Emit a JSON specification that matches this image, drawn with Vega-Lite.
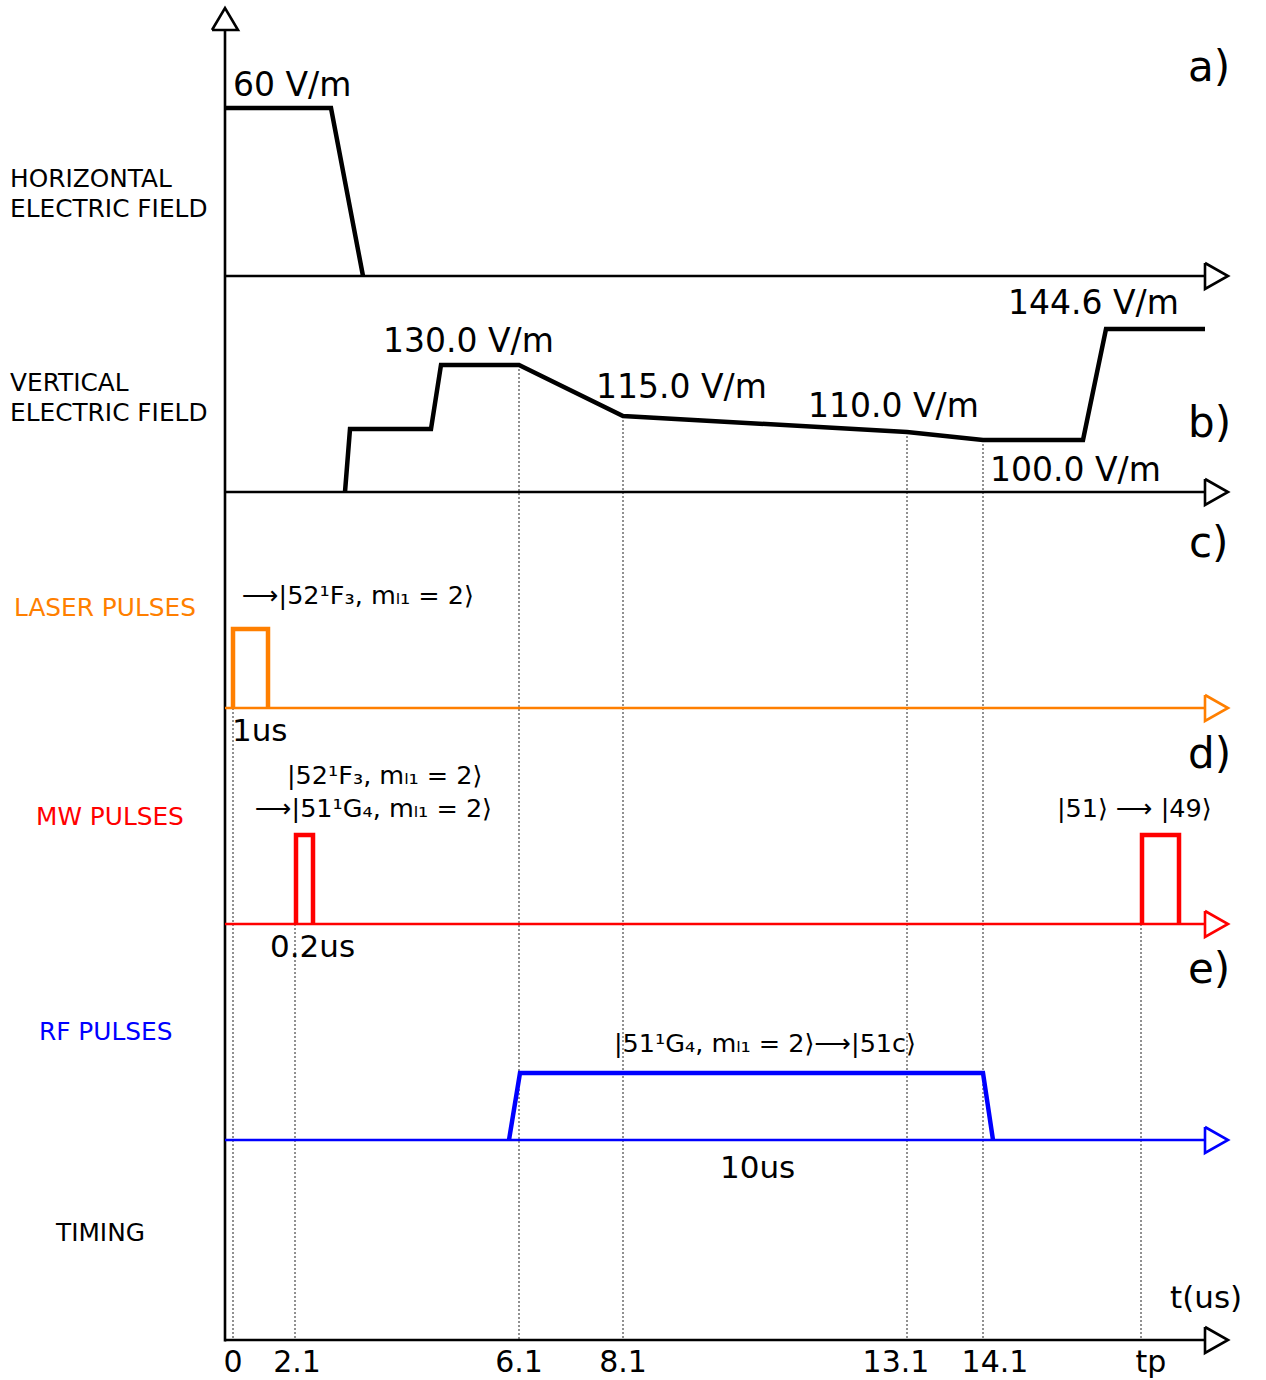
{
  "$schema": "https://vega.github.io/schema/vega-lite/v6.json",
  "width": 1266,
  "height": 1380,
  "autosize": {"type": "none"},
  "padding": 0,
  "background": "white",
  "config": {"view": {"stroke": null}, "text": {"font": "DejaVu Sans"}},
  "datasets": {
    "paths": [
      {"s": "vaxis", "k": "ax", "c": "k", "o": 1, "x": 225, "y": 1341.5},
      {"s": "vaxis", "k": "ax", "c": "k", "o": 2, "x": 225, "y": 30},
      {"s": "vhead", "k": "ax", "c": "k", "o": 1, "x": 212, "y": 30},
      {"s": "vhead", "k": "ax", "c": "k", "o": 2, "x": 225, "y": 8},
      {"s": "vhead", "k": "ax", "c": "k", "o": 3, "x": 238, "y": 30},
      {"s": "vhead", "k": "ax", "c": "k", "o": 4, "x": 212, "y": 30},
      {"s": "ha", "k": "ax", "c": "k", "o": 1, "x": 225, "y": 276},
      {"s": "ha", "k": "ax", "c": "k", "o": 2, "x": 1205, "y": 276},
      {"s": "hah", "k": "ax", "c": "k", "o": 1, "x": 1205, "y": 263},
      {"s": "hah", "k": "ax", "c": "k", "o": 2, "x": 1228, "y": 276},
      {"s": "hah", "k": "ax", "c": "k", "o": 3, "x": 1205, "y": 289},
      {"s": "hah", "k": "ax", "c": "k", "o": 4, "x": 1205, "y": 263},
      {"s": "hb", "k": "ax", "c": "k", "o": 1, "x": 225, "y": 492},
      {"s": "hb", "k": "ax", "c": "k", "o": 2, "x": 1205, "y": 492},
      {"s": "hbh", "k": "ax", "c": "k", "o": 1, "x": 1205, "y": 479},
      {"s": "hbh", "k": "ax", "c": "k", "o": 2, "x": 1228, "y": 492},
      {"s": "hbh", "k": "ax", "c": "k", "o": 3, "x": 1205, "y": 505},
      {"s": "hbh", "k": "ax", "c": "k", "o": 4, "x": 1205, "y": 479},
      {"s": "hc", "k": "ax", "c": "o", "o": 1, "x": 225, "y": 708},
      {"s": "hc", "k": "ax", "c": "o", "o": 2, "x": 1205, "y": 708},
      {"s": "hch", "k": "ax", "c": "o", "o": 1, "x": 1205, "y": 695},
      {"s": "hch", "k": "ax", "c": "o", "o": 2, "x": 1228, "y": 708},
      {"s": "hch", "k": "ax", "c": "o", "o": 3, "x": 1205, "y": 721},
      {"s": "hch", "k": "ax", "c": "o", "o": 4, "x": 1205, "y": 695},
      {"s": "hd", "k": "ax", "c": "r", "o": 1, "x": 225, "y": 924},
      {"s": "hd", "k": "ax", "c": "r", "o": 2, "x": 1205, "y": 924},
      {"s": "hdh", "k": "ax", "c": "r", "o": 1, "x": 1205, "y": 911},
      {"s": "hdh", "k": "ax", "c": "r", "o": 2, "x": 1228, "y": 924},
      {"s": "hdh", "k": "ax", "c": "r", "o": 3, "x": 1205, "y": 937},
      {"s": "hdh", "k": "ax", "c": "r", "o": 4, "x": 1205, "y": 911},
      {"s": "he", "k": "ax", "c": "b", "o": 1, "x": 225, "y": 1140},
      {"s": "he", "k": "ax", "c": "b", "o": 2, "x": 1205, "y": 1140},
      {"s": "heh", "k": "ax", "c": "b", "o": 1, "x": 1205, "y": 1127},
      {"s": "heh", "k": "ax", "c": "b", "o": 2, "x": 1228, "y": 1140},
      {"s": "heh", "k": "ax", "c": "b", "o": 3, "x": 1205, "y": 1153},
      {"s": "heh", "k": "ax", "c": "b", "o": 4, "x": 1205, "y": 1127},
      {"s": "ht", "k": "ax", "c": "k", "o": 1, "x": 225, "y": 1340},
      {"s": "ht", "k": "ax", "c": "k", "o": 2, "x": 1205, "y": 1340},
      {"s": "hth", "k": "ax", "c": "k", "o": 1, "x": 1205, "y": 1327},
      {"s": "hth", "k": "ax", "c": "k", "o": 2, "x": 1228, "y": 1340},
      {"s": "hth", "k": "ax", "c": "k", "o": 3, "x": 1205, "y": 1353},
      {"s": "hth", "k": "ax", "c": "k", "o": 4, "x": 1205, "y": 1327},

      {"s": "sa", "k": "sig", "c": "k", "o": 1, "x": 225, "y": 108},
      {"s": "sa", "k": "sig", "c": "k", "o": 2, "x": 331, "y": 108},
      {"s": "sa", "k": "sig", "c": "k", "o": 3, "x": 363, "y": 276},
      {"s": "sb", "k": "sig", "c": "k", "o": 1, "x": 345, "y": 492},
      {"s": "sb", "k": "sig", "c": "k", "o": 2, "x": 350, "y": 429},
      {"s": "sb", "k": "sig", "c": "k", "o": 3, "x": 431, "y": 429},
      {"s": "sb", "k": "sig", "c": "k", "o": 4, "x": 441, "y": 365},
      {"s": "sb", "k": "sig", "c": "k", "o": 5, "x": 519, "y": 365},
      {"s": "sb", "k": "sig", "c": "k", "o": 6, "x": 623, "y": 416},
      {"s": "sb", "k": "sig", "c": "k", "o": 7, "x": 907, "y": 432},
      {"s": "sb", "k": "sig", "c": "k", "o": 8, "x": 983, "y": 440},
      {"s": "sb", "k": "sig", "c": "k", "o": 9, "x": 1083, "y": 440},
      {"s": "sb", "k": "sig", "c": "k", "o": 10, "x": 1106, "y": 329},
      {"s": "sb", "k": "sig", "c": "k", "o": 11, "x": 1205, "y": 329},
      {"s": "sc", "k": "sig", "c": "o", "o": 1, "x": 233, "y": 708},
      {"s": "sc", "k": "sig", "c": "o", "o": 2, "x": 233, "y": 629},
      {"s": "sc", "k": "sig", "c": "o", "o": 3, "x": 268, "y": 629},
      {"s": "sc", "k": "sig", "c": "o", "o": 4, "x": 268, "y": 708},
      {"s": "sd1", "k": "sig", "c": "r", "o": 1, "x": 296, "y": 924},
      {"s": "sd1", "k": "sig", "c": "r", "o": 2, "x": 296, "y": 835},
      {"s": "sd1", "k": "sig", "c": "r", "o": 3, "x": 313, "y": 835},
      {"s": "sd1", "k": "sig", "c": "r", "o": 4, "x": 313, "y": 924},
      {"s": "sd2", "k": "sig", "c": "r", "o": 1, "x": 1142, "y": 924},
      {"s": "sd2", "k": "sig", "c": "r", "o": 2, "x": 1142, "y": 835},
      {"s": "sd2", "k": "sig", "c": "r", "o": 3, "x": 1179, "y": 835},
      {"s": "sd2", "k": "sig", "c": "r", "o": 4, "x": 1179, "y": 924},
      {"s": "se", "k": "sig", "c": "b", "o": 1, "x": 509, "y": 1140},
      {"s": "se", "k": "sig", "c": "b", "o": 2, "x": 520, "y": 1073},
      {"s": "se", "k": "sig", "c": "b", "o": 3, "x": 983, "y": 1073},
      {"s": "se", "k": "sig", "c": "b", "o": 4, "x": 993, "y": 1140}
    ],
    "guides": [
      {"x": 233, "y": 708, "y2": 1340},
      {"x": 295, "y": 924, "y2": 1340},
      {"x": 519, "y": 365, "y2": 1340},
      {"x": 623, "y": 416, "y2": 1340},
      {"x": 907, "y": 432, "y2": 1340},
      {"x": 983, "y": 440, "y2": 1340},
      {"x": 1141, "y": 924, "y2": 1340}
    ],
    "texts": [
      {"t": "val", "c": "k", "x": 233, "y": 96, "label": "60 V/m"},
      {"t": "val", "c": "k", "x": 383, "y": 352, "label": "130.0 V/m"},
      {"t": "val", "c": "k", "x": 596, "y": 398, "label": "115.0 V/m"},
      {"t": "val", "c": "k", "x": 808, "y": 417, "label": "110.0 V/m"},
      {"t": "val", "c": "k", "x": 990, "y": 481, "label": "100.0 V/m"},
      {"t": "val", "c": "k", "x": 1008, "y": 314, "label": "144.6 V/m"},
      {"t": "panel", "c": "k", "x": 1188, "y": 81, "label": "a)"},
      {"t": "panel", "c": "k", "x": 1188, "y": 437, "label": "b)"},
      {"t": "panel", "c": "k", "x": 1189, "y": 557, "label": "c)"},
      {"t": "panel", "c": "k", "x": 1188, "y": 768, "label": "d)"},
      {"t": "panel", "c": "k", "x": 1188, "y": 983, "label": "e)"},
      {"t": "dur", "c": "k", "x": 232, "y": 741, "label": "1us"},
      {"t": "dur", "c": "k", "x": 270, "y": 957, "label": "0.2us"},
      {"t": "dur", "c": "k", "x": 720, "y": 1178, "label": "10us"},
      {"t": "dur", "c": "k", "x": 1170, "y": 1308, "label": "t(us)"},
      {"t": "tick", "c": "k", "x": 233, "y": 1372, "label": "0"},
      {"t": "tick", "c": "k", "x": 297, "y": 1372, "label": "2.1"},
      {"t": "tick", "c": "k", "x": 519, "y": 1372, "label": "6.1"},
      {"t": "tick", "c": "k", "x": 623, "y": 1372, "label": "8.1"},
      {"t": "tick", "c": "k", "x": 896, "y": 1372, "label": "13.1"},
      {"t": "tick", "c": "k", "x": 995, "y": 1372, "label": "14.1"},
      {"t": "tick", "c": "k", "x": 1151, "y": 1372, "label": "tp"},
      {"t": "side", "c": "k", "x": 10, "y": 187, "label": "HORIZONTAL"},
      {"t": "side", "c": "k", "x": 10, "y": 217, "label": "ELECTRIC FIELD"},
      {"t": "side", "c": "k", "x": 10, "y": 391, "label": "VERTICAL"},
      {"t": "side", "c": "k", "x": 10, "y": 421, "label": "ELECTRIC FIELD"},
      {"t": "side", "c": "o", "x": 14, "y": 616, "label": "LASER PULSES"},
      {"t": "side", "c": "r", "x": 36, "y": 825, "label": "MW PULSES"},
      {"t": "side", "c": "b", "x": 39, "y": 1040, "label": "RF PULSES"},
      {"t": "side", "c": "k", "x": 56, "y": 1241, "label": "TIMING"},
      {"t": "ket", "c": "k", "x": 242, "y": 604, "label": "⟶|52¹F₃, mₗ₁ = 2⟩"},
      {"t": "ket", "c": "k", "x": 287, "y": 784, "label": "|52¹F₃, mₗ₁ = 2⟩"},
      {"t": "ket", "c": "k", "x": 255, "y": 817, "label": "⟶|51¹G₄, mₗ₁ = 2⟩"},
      {"t": "ket", "c": "k", "x": 1057, "y": 817, "label": "|51⟩ ⟶ |49⟩"},
      {"t": "ket", "c": "k", "x": 614, "y": 1052, "label": "|51¹G₄, mₗ₁ = 2⟩⟶|51c⟩"}
    ]
  },
  "encoding": {
    "x": {"field": "x", "type": "quantitative", "scale": {"domain": [0, 1266], "nice": false, "zero": false}, "axis": null},
    "y": {"field": "y", "type": "quantitative", "scale": {"domain": [0, 1380], "nice": false, "zero": false, "reverse": true}, "axis": null}
  },
  "layer": [
    {
      "data": {"name": "guides"},
      "mark": {"type": "rule", "strokeWidth": 1, "strokeDash": [2, 2], "color": "#222222"},
      "encoding": {"y2": {"field": "y2"}}
    },
    {
      "data": {"name": "paths"},
      "transform": [{"filter": "datum.k === 'ax'"}],
      "mark": {"type": "line", "strokeWidth": 2.6, "strokeJoin": "miter", "strokeCap": "butt"},
      "encoding": {
        "detail": {"field": "s"},
        "order": {"field": "o", "type": "quantitative"},
        "color": {"field": "c", "type": "nominal", "scale": {"domain": ["k", "o", "r", "b"], "range": ["#000000", "#ff7f00", "#ff0000", "#0000ff"]}, "legend": null}
      }
    },
    {
      "data": {"name": "paths"},
      "transform": [{"filter": "datum.k === 'sig'"}],
      "mark": {"type": "line", "strokeWidth": 4.5, "strokeJoin": "miter", "strokeCap": "butt"},
      "encoding": {
        "detail": {"field": "s"},
        "order": {"field": "o", "type": "quantitative"},
        "color": {"field": "c", "type": "nominal", "legend": null}
      }
    },
    {
      "data": {"name": "texts"},
      "transform": [{"filter": "datum.t === 'val'"}],
      "mark": {"type": "text", "fontSize": 33, "align": "left", "baseline": "alphabetic"},
      "encoding": {"text": {"field": "label"}, "color": {"field": "c", "type": "nominal", "legend": null}}
    },
    {
      "data": {"name": "texts"},
      "transform": [{"filter": "datum.t === 'panel'"}],
      "mark": {"type": "text", "fontSize": 42, "align": "left", "baseline": "alphabetic"},
      "encoding": {"text": {"field": "label"}, "color": {"field": "c", "type": "nominal", "legend": null}}
    },
    {
      "data": {"name": "texts"},
      "transform": [{"filter": "datum.t === 'dur'"}],
      "mark": {"type": "text", "fontSize": 31, "align": "left", "baseline": "alphabetic"},
      "encoding": {"text": {"field": "label"}, "color": {"field": "c", "type": "nominal", "legend": null}}
    },
    {
      "data": {"name": "texts"},
      "transform": [{"filter": "datum.t === 'tick'"}],
      "mark": {"type": "text", "fontSize": 30, "align": "center", "baseline": "alphabetic"},
      "encoding": {"text": {"field": "label"}, "color": {"field": "c", "type": "nominal", "legend": null}}
    },
    {
      "data": {"name": "texts"},
      "transform": [{"filter": "datum.t === 'side'"}],
      "mark": {"type": "text", "fontSize": 24.8, "align": "left", "baseline": "alphabetic"},
      "encoding": {"text": {"field": "label"}, "color": {"field": "c", "type": "nominal", "legend": null}}
    },
    {
      "data": {"name": "texts"},
      "transform": [{"filter": "datum.t === 'ket'"}],
      "mark": {"type": "text", "fontSize": 25.5, "align": "left", "baseline": "alphabetic"},
      "encoding": {"text": {"field": "label"}, "color": {"field": "c", "type": "nominal", "legend": null}}
    }
  ]
}
